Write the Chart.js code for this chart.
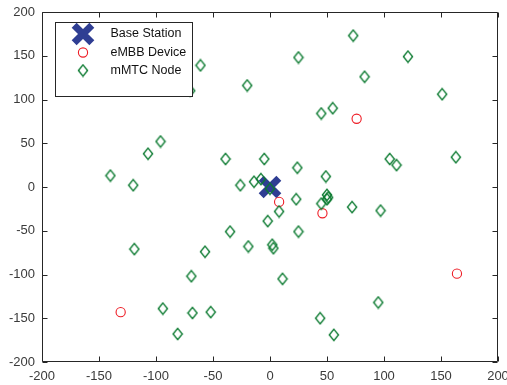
<!DOCTYPE html>
<html><head><meta charset="utf-8">
<script src="https://cdn.jsdelivr.net/npm/chart.js@4/dist/chart.umd.min.js"></script>
<style>html,body{margin:0;padding:0;background:#fff}#wrap{width:507px;height:385px}</style>
</head><body><div id="wrap"><canvas id="c" width="507" height="385"></canvas></div>
<script>
const seriesLabels = ['Base Station', 'eMBB Device', 'mMTC Node'];
const baseStationX = [0];
const baseStationY = [0];
const embbX = [76, 8, 46, 164, -131];
const embbY = [78, -17, -30, -99, -143];
const mmtcX = [-140, -120, -107, -96, -70, -61, -39, -26, -20, -14, -8, -5, 0, 25, 73, 121, 83, 151, 45, 55,
               105, 111, 163, 24, 49, 8, 23, 45, 50, 51, 50, 72, 97, -2, 25, -35, -19, 2, 3, -57,
               -119, -69, 11, 95, 44, 56, -94, -68, -52, -81];
const mmtcY = [13, 2, 38, 52, 110, 139, 32, 2, 116, 6, 9, 32, -2, 148, 173, 149, 126, 106, 84, 90,
               32, 25, 34, 22, 12, -28, -14, -19, -9, -12, -14, -23, -27, -39, -51, -51, -68, -66, -70, -74,
               -71, -102, -105, -132, -150, -169, -139, -144, -143, -168];
const xTicks = [-200, -150, -100, -50, 0, 50, 100, 150, 200];
const yTicks = [-200, -150, -100, -50, 0, 50, 100, 150, 200];

const toPts = (xs, ys) => xs.map((x, i) => ({x: x, y: ys[i]}));
const FONT = "'Liberation Sans', Arial, sans-serif";
const AXIS = '#262626';

// tall diamond marker (MATLAB-like)
function makeDiamond(color) {
  const c = document.createElement('canvas');
  c.width = 12; c.height = 14;
  const g = c.getContext('2d');
  g.strokeStyle = color; g.lineWidth = 1.35;
  g.beginPath();
  g.moveTo(6, 1.3); g.lineTo(10.6, 7); g.lineTo(6, 12.7); g.lineTo(1.4, 7); g.closePath();
  g.stroke();
  return c;
}
const diamondImg = makeDiamond('#0b7a30');

const styles = [
  {pointStyle: 'crossRot', radius: 12.5, borderWidth: 7, borderColor: '#2f3e93'},
  {pointStyle: 'circle', radius: 4.6, borderWidth: 1.1, borderColor: '#ee1c25'},
  {pointStyle: diamondImg, radius: 5, borderWidth: 1.2, borderColor: '#0b7a30'}
];

const framePlugin = {
  id: 'frame',
  afterDatasetsDraw(chart) {
    const ctx = chart.ctx, a = chart.chartArea;
    const xs = chart.scales.x, ys = chart.scales.y;
    ctx.save();
    ctx.strokeStyle = AXIS; ctx.lineWidth = 1;
    const L = Math.round(a.left) + 0.5, R = Math.round(a.right) - 0.5;
    const T = Math.round(a.top) + 0.5, B = Math.round(a.bottom) - 0.5;
    ctx.beginPath();
    ctx.rect(L, T, R - L, B - T);
    const tl = 5;
    xTicks.forEach(v => {
      const p = Math.round(xs.getPixelForValue(v)) + 0.5;
      ctx.moveTo(p, B); ctx.lineTo(p, B - tl);
      ctx.moveTo(p, T); ctx.lineTo(p, T + tl);
    });
    yTicks.forEach(v => {
      const p = Math.round(ys.getPixelForValue(v)) + 0.5;
      ctx.moveTo(L, p); ctx.lineTo(L + tl, p);
      ctx.moveTo(R, p); ctx.lineTo(R - tl, p);
    });
    ctx.stroke();

    // legend
    const lx = 55.5, ly = 22.5, lw = 137, lh = 74;
    ctx.fillStyle = '#fff';
    ctx.fillRect(lx, ly, lw, lh);
    ctx.strokeStyle = AXIS;
    ctx.strokeRect(lx, ly, lw, lh);
    const rows = [34, 52.5, 70.5];
    chart.data.datasets.forEach((ds, i) => {
      const st = styles[i];
      ctx.strokeStyle = st.borderColor;
      ctx.fillStyle = 'rgba(0,0,0,0)';
      ctx.lineWidth = st.borderWidth;
      Chart.helpers.drawPoint(ctx, {pointStyle: st.pointStyle, radius: st.radius, borderWidth: st.borderWidth, rotation: 0}, 83, rows[i]);
      ctx.fillStyle = '#111';
      ctx.font = '12.5px ' + FONT;
      ctx.textBaseline = 'middle';
      ctx.textAlign = 'left';
      ctx.fillText(ds.label, 110.5, rows[i]);
    });
    ctx.restore();
  }
};

const mk = (i, data, order) => ({
  label: seriesLabels[i], data: data, order: order,
  pointStyle: styles[i].pointStyle, pointRadius: styles[i].radius, pointHoverRadius: styles[i].radius,
  pointBorderWidth: styles[i].borderWidth, pointBorderColor: styles[i].borderColor,
  pointBackgroundColor: 'rgba(0,0,0,0)', borderColor: styles[i].borderColor, showLine: false
});

new Chart(document.getElementById('c'), {
  type: 'scatter',
  data: {
    datasets: [
      mk(0, toPts(baseStationX, baseStationY), 3),
      mk(1, toPts(embbX, embbY), 2),
      mk(2, toPts(mmtcX, mmtcY), 1)
    ]
  },
  options: {
    responsive: false, animation: false, devicePixelRatio: 1,
    layout: {autoPadding: false, padding: {top: 12, right: 9, left: 0, bottom: 0}},
    plugins: {legend: {display: false}, tooltip: {enabled: false}},
    scales: {
      x: {
        type: 'linear', min: -200, max: 200,
        grid: {display: false, drawTicks: false}, border: {display: false},
        afterBuildTicks: s => { s.ticks = xTicks.map(v => ({value: v})); },
        afterFit: s => { s.height = 23; s.paddingLeft = 0; s.paddingRight = 0; },
        ticks: {padding: 7, maxRotation: 0, autoSkip: false, color: '#3a3a3a', font: {family: FONT, size: 13}}
      },
      y: {
        type: 'linear', min: -200, max: 200,
        grid: {display: false, drawTicks: false}, border: {display: false},
        afterBuildTicks: s => { s.ticks = yTicks.map(v => ({value: v})); },
        afterFit: s => { s.width = 42; s.paddingTop = 0; s.paddingBottom = 0; },
        ticks: {padding: 7, autoSkip: false, color: '#3a3a3a', font: {family: FONT, size: 13}}
      }
    }
  },
  plugins: [framePlugin]
});
</script></body></html>
